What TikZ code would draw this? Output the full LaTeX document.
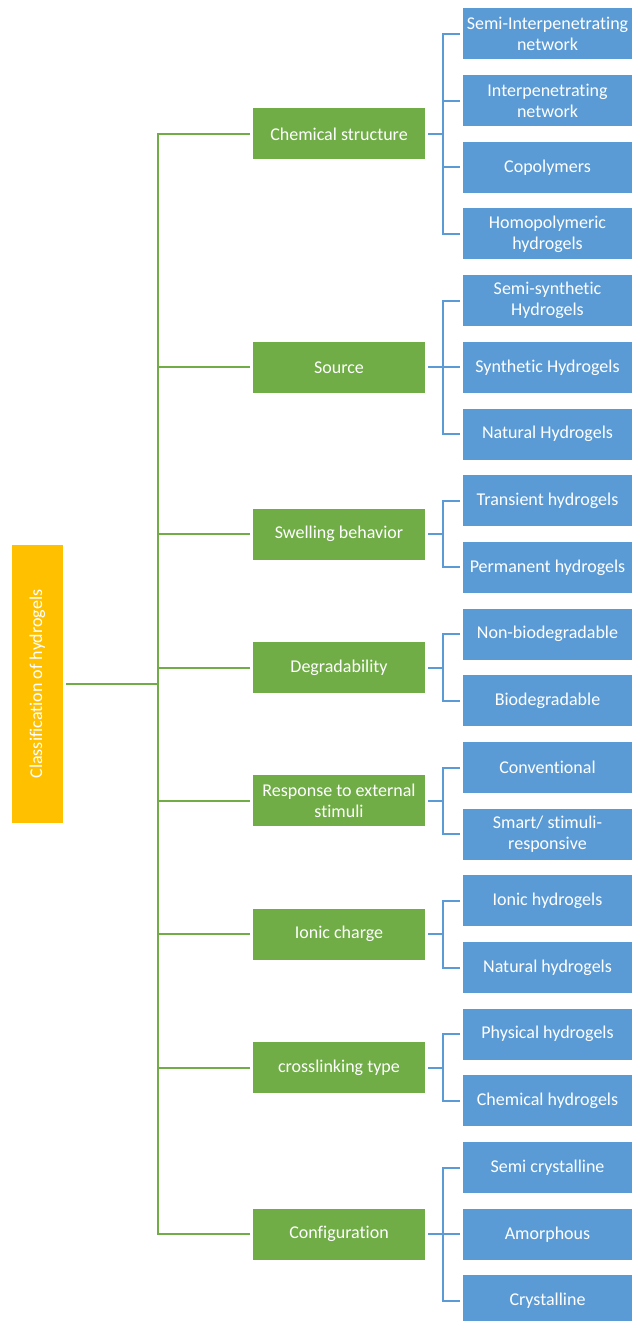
\documentclass[tikz,border=0pt]{standalone}
\usepackage{fontspec}
\setmainfont{Carlito}[Ligatures=CommonOff]
\definecolor{hgreen}{HTML}{70AD47}
\definecolor{hblue}{HTML}{5B9BD5}
\definecolor{horange}{HTML}{FFC000}
\tikzset{
	rootbox/.style={fill=horange, text=white, rotate=90, minimum width=278pt, minimum height=51pt, inner sep=0pt, outer sep=3pt, font=\fontsize{18}{21}\selectfont},
	classbox/.style={fill=hgreen, text=white, minimum width=172pt, minimum height=51pt, inner sep=0pt, outer sep=3pt, align=center, font=\fontsize{18}{21}\selectfont},
	typebox/.style={fill=hblue, text=white, minimum width=169pt, minimum height=51pt, inner sep=0pt, outer sep=3pt, align=center, font=\fontsize{18}{21}\selectfont},
	gline/.style={draw=hgreen, line width=2pt},
	bline/.style={draw=hblue, line width=2pt}
}

\begin{document}
\begin{tikzpicture}[x=1pt, y=-1pt]
	\useasboundingbox (0, 0) rectangle (632, 1321);
	\node[rootbox] (classif) at (37.5, 684) {Classification of hydrogels};
	\coordinate (trunk) at (158, 684);

	\node[classbox] (chemstruct) at (339, 134) {Chemical structure};
	\node[classbox] (source) at (339, 367.4) {Source};
	\node[classbox] (swelling) at (339, 534.1) {Swelling behavior};
	\node[classbox] (degrad) at (339, 667.5) {Degradability};
	\node[classbox] (response) at (339, 800.9) {Response to external\\stimuli};
	\node[classbox] (ionic) at (339, 934.2) {Ionic charge};
	\node[classbox] (crosslink) at (339, 1067.6) {crosslinking type};
	\node[classbox] (config) at (339, 1234.2) {Configuration};

	\node[typebox] (semiipn) at (547.5, 34) {Semi-Interpenetrating\\network};
	\node[typebox] (ipn) at (547.5, 100.7) {Interpenetrating\\network};
	\node[typebox] (copoly) at (547.5, 167.4) {Copolymers};
	\node[typebox] (homopoly) at (547.5, 234) {Homopolymeric\\hydrogels};
	\node[typebox] (semisyn) at (547.5, 300.7) {Semi-synthetic\\Hydrogels};
	\node[typebox] (synthetic) at (547.5, 367.4) {Synthetic Hydrogels};
	\node[typebox] (natural) at (547.5, 434) {Natural Hydrogels};
	\node[typebox] (transient) at (547.5, 500.8) {Transient hydrogels};
	\node[typebox] (permanent) at (547.5, 567.4) {Permanent hydrogels};
	\node[typebox] (nonbio) at (547.5, 634.1) {Non-biodegradable};
	\node[typebox] (bio) at (547.5, 700.8) {Biodegradable};
	\node[typebox] (conventional) at (547.5, 767.5) {Conventional};
	\node[typebox] (smart) at (547.5, 834.2) {Smart/ stimuli-\\responsive};
	\node[typebox] (ionichyd) at (547.5, 900.8) {Ionic hydrogels};
	\node[typebox] (naturalhyd) at (547.5, 967.5) {Natural hydrogels};
	\node[typebox] (physical) at (547.5, 1034.2) {Physical hydrogels};
	\node[typebox] (chemical) at (547.5, 1100.9) {Chemical hydrogels};
	\node[typebox] (semicryst) at (547.5, 1167.6) {Semi crystalline};
	\node[typebox] (amorph) at (547.5, 1234.2) {Amorphous};
	\node[typebox] (cryst) at (547.5, 1300.9) {Crystalline};

	% root to the classes
	\draw[gline] (classif) -- (trunk);
	\draw[gline] (trunk) |- (chemstruct);
	\draw[gline] (trunk) |- (source);
	\draw[gline] (trunk) |- (swelling);
	\draw[gline] (trunk) |- (degrad);
	\draw[gline] (trunk) |- (response);
	\draw[gline] (trunk) |- (ionic);
	\draw[gline] (trunk) |- (crosslink);
	\draw[gline] (trunk) |- (config);

	% classes to the types
	\draw[bline] (chemstruct.east) -- ++(15, 0) |- (semiipn);
	\draw[bline] (chemstruct.east) -- ++(15, 0) |- (ipn);
	\draw[bline] (chemstruct.east) -- ++(15, 0) |- (copoly);
	\draw[bline] (chemstruct.east) -- ++(15, 0) |- (homopoly);
	\draw[bline] (source.east) -- ++(15, 0) |- (semisyn);
	\draw[bline] (source.east) -- ++(15, 0) |- (synthetic);
	\draw[bline] (source.east) -- ++(15, 0) |- (natural);
	\draw[bline] (swelling.east) -- ++(15, 0) |- (transient);
	\draw[bline] (swelling.east) -- ++(15, 0) |- (permanent);
	\draw[bline] (degrad.east) -- ++(15, 0) |- (nonbio);
	\draw[bline] (degrad.east) -- ++(15, 0) |- (bio);
	\draw[bline] (response.east) -- ++(15, 0) |- (conventional);
	\draw[bline] (response.east) -- ++(15, 0) |- (smart);
	\draw[bline] (ionic.east) -- ++(15, 0) |- (ionichyd);
	\draw[bline] (ionic.east) -- ++(15, 0) |- (naturalhyd);
	\draw[bline] (crosslink.east) -- ++(15, 0) |- (physical);
	\draw[bline] (crosslink.east) -- ++(15, 0) |- (chemical);
	\draw[bline] (config.east) -- ++(15, 0) |- (semicryst);
	\draw[bline] (config.east) -- ++(15, 0) |- (amorph);
	\draw[bline] (config.east) -- ++(15, 0) |- (cryst);
\end{tikzpicture}
\end{document}
